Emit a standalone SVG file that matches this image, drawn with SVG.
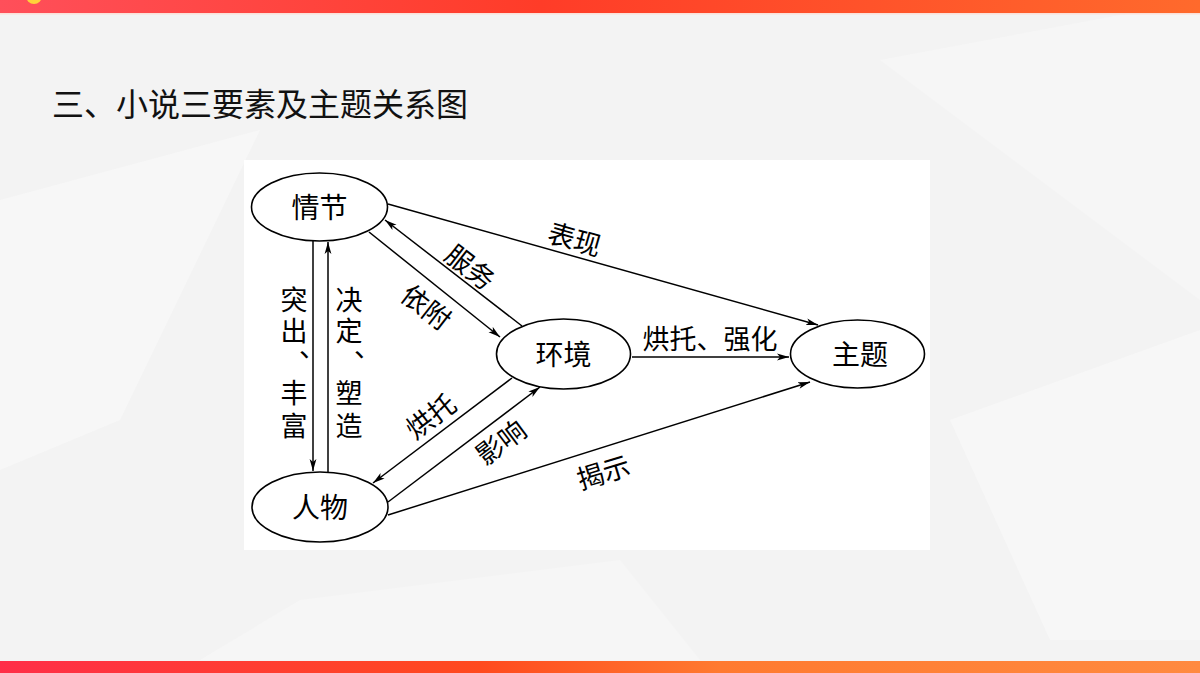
<svg xmlns="http://www.w3.org/2000/svg" width="1200" height="673" viewBox="0 0 1200 673">
<defs>
<linearGradient id="topbar" x1="0" y1="0" x2="1" y2="0">
<stop offset="0" stop-color="#ff4f5a"/>
<stop offset="0.45" stop-color="#ff3c28"/>
<stop offset="1" stop-color="#ff6a2c"/>
</linearGradient>
<linearGradient id="botbar" x1="0" y1="0" x2="1" y2="0">
<stop offset="0" stop-color="#ff2e48"/>
<stop offset="0.4" stop-color="#ff4a1e"/>
<stop offset="0.6" stop-color="#ff7a30"/>
<stop offset="1" stop-color="#ff8a40"/>
</linearGradient>
<marker id="arr" markerUnits="userSpaceOnUse" viewBox="0 0 12 8" refX="12" refY="4" markerWidth="12" markerHeight="8" orient="auto">
<path d="M0,0.6 L12,4 L0,7.4 L3,4 Z" fill="#000"/>
</marker>
<style>
.node{fill:#fff;stroke:#000;stroke-width:1.6}
.nt{font-family:"Noto Sans CJK SC","Noto Sans CJK JP",sans-serif;font-size:28px;fill:#000;text-anchor:middle;dominant-baseline:central}
.lb{font-family:"Noto Sans CJK SC","Noto Sans CJK JP",sans-serif;font-size:27px;fill:#000;text-anchor:middle;dominant-baseline:central}
.col{font-family:"Noto Sans CJK SC","Noto Sans CJK JP",sans-serif;font-size:27px;fill:#000}
.ln{stroke:#000;stroke-width:1.5;fill:none;marker-end:url(#arr)}
</style>
</defs>
<rect x="0" y="0" width="1200" height="673" fill="#f3f3f3"/>
<polygon points="0,200 260,130 120,420 0,470" fill="#f7f7f7"/>
<polygon points="880,60 1200,0 1200,300" fill="#f6f6f6"/>
<polygon points="950,420 1200,330 1200,640 1050,640" fill="#f7f7f7"/>
<polygon points="300,600 620,560 700,660 200,660" fill="#f6f6f6"/>
<rect x="0" y="0" width="1200" height="13" fill="url(#topbar)"/>
<circle cx="34" cy="-4" r="8" fill="#ffd23a"/>
<rect x="0" y="13" width="1200" height="1.5" fill="#fbe0d8"/>
<rect x="0" y="661" width="1200" height="12" fill="url(#botbar)"/>
<text x="52" y="116" font-family="Noto Sans CJK SC,sans-serif" font-size="32" fill="#111">三、小说三要素及主题关系图</text>
<rect x="244" y="160" width="686" height="390" fill="#fff"/>
<g id="connectors">
<line class="ln" x1="313" y1="241" x2="313" y2="471"/>
<line class="ln" x1="328" y1="473" x2="328" y2="242"/>
<line class="ln" x1="369" y1="232" x2="500" y2="337"/>
<line class="ln" x1="522" y1="326" x2="385" y2="220"/>
<line class="ln" x1="388" y1="204" x2="818" y2="325"/>
<line class="ln" x1="632" y1="357" x2="789" y2="357"/>
<line class="ln" x1="512" y1="378" x2="373" y2="483"/>
<line class="ln" x1="388" y1="502" x2="540" y2="387"/>
<line class="ln" x1="388" y1="515" x2="810" y2="382"/>
</g>
<g id="qingjie">
<ellipse class="node" cx="319.5" cy="207" rx="68" ry="34"/>
<text class="nt" x="319.5" y="206">情节</text>
</g>
<g id="renwu">
<ellipse class="node" cx="320" cy="507" rx="68" ry="35"/>
<text class="nt" x="320" y="506">人物</text>
</g>
<g id="huanjing">
<ellipse class="node" cx="563.5" cy="354" rx="67" ry="35"/>
<text class="nt" x="563.5" y="353">环境</text>
</g>
<g id="zhuti">
<ellipse class="node" cx="857.5" cy="354" rx="67" ry="34"/>
<text class="nt" x="860" y="353">主题</text>
</g>
<g id="labels">
<text class="col"><tspan x="280.5" y="310">突</tspan><tspan x="280.5" y="341">出</tspan><tspan x="299" y="357">、</tspan><tspan x="280.5" y="403">丰</tspan><tspan x="280.5" y="436">富</tspan></text>
<text class="col"><tspan x="335.5" y="310">决</tspan><tspan x="335.5" y="341">定</tspan><tspan x="354" y="357">、</tspan><tspan x="335.5" y="403">塑</tspan><tspan x="335.5" y="436">造</tspan></text>
<text class="lb" transform="translate(471,266) rotate(38)">服务</text>
<text class="lb" transform="translate(427,306) rotate(38)">依附</text>
<text class="lb" transform="translate(575,238) rotate(16)">表现</text>
<text class="lb" x="710" y="337">烘托、强化</text>
<text class="lb" transform="translate(430,415) rotate(-37)">烘托</text>
<text class="lb" transform="translate(500,441) rotate(-37)">影响</text>
<text class="lb" transform="translate(603,471) rotate(-17)">揭示</text>
</g>
</svg>
